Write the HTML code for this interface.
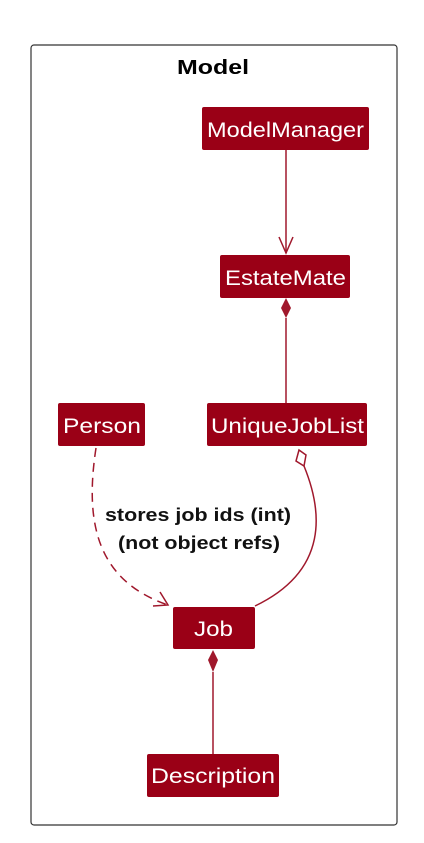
<!DOCTYPE html>
<html><head><style>
body{margin:0;background:#fff;width:424px;height:838px;overflow:hidden;font-family:"Liberation Sans",sans-serif}
</style></head><body>
<svg width="424" height="838" xmlns="http://www.w3.org/2000/svg">
<rect x="31" y="45" width="366" height="780" rx="3" fill="#fff" stroke="#333" stroke-width="1.2"/>
<text x="177" y="74" font-weight="bold" font-size="20" fill="#000" textLength="72" lengthAdjust="spacingAndGlyphs">Model</text>
<g fill="#9a0016">
<rect x="202" y="107" width="167" height="43" rx="2"/>
<rect x="220" y="255" width="130" height="43" rx="2"/>
<rect x="58" y="403" width="87" height="43" rx="2"/>
<rect x="207" y="403" width="160" height="43" rx="2"/>
<rect x="173" y="607" width="82" height="42" rx="2"/>
<rect x="147" y="754" width="132" height="43" rx="2"/>
</g>
<g fill="#fff" font-size="21" lengthAdjust="spacingAndGlyphs">
<text x="207" y="137" textLength="157" lengthAdjust="spacingAndGlyphs">ModelManager</text>
<text x="225" y="285" textLength="121" lengthAdjust="spacingAndGlyphs">EstateMate</text>
<text x="63" y="433" textLength="78" lengthAdjust="spacingAndGlyphs">Person</text>
<text x="211" y="433" textLength="153" lengthAdjust="spacingAndGlyphs">UniqueJobList</text>
<text x="194" y="636" textLength="39" lengthAdjust="spacingAndGlyphs">Job</text>
<text x="151" y="783" textLength="124" lengthAdjust="spacingAndGlyphs">Description</text>
</g>
<g stroke="#a0182c" stroke-width="1.5" fill="none">
<line x1="286" y1="150" x2="286" y2="253"/>
<polyline points="279,237 286,253 293,237"/>
<line x1="286" y1="318" x2="286" y2="403"/>
<line x1="213" y1="672" x2="213" y2="754"/>
<path d="M304,466 C322,510 330,570 255,606"/>
<path d="M96,448 C85,520 95,580 168,605" stroke-dasharray="9,6"/>
<polyline points="153,606 168,605 160,592"/>
</g>
<polygon points="286,298 291,308 286,318 281,308" fill="#a0182c"/>
<polygon points="213,650 218,660 213,672 208,660" fill="#a0182c"/>
<polygon points="299,450 306,455 304,466 296,461" fill="#fff" stroke="#a0182c" stroke-width="1.5"/>
<g font-weight="bold" font-size="18" fill="#111">
<text x="105" y="521" textLength="186" lengthAdjust="spacingAndGlyphs">stores job ids (int)</text>
<text x="118" y="549" textLength="162" lengthAdjust="spacingAndGlyphs">(not object refs)</text>
</g>
</svg>
</body></html>
